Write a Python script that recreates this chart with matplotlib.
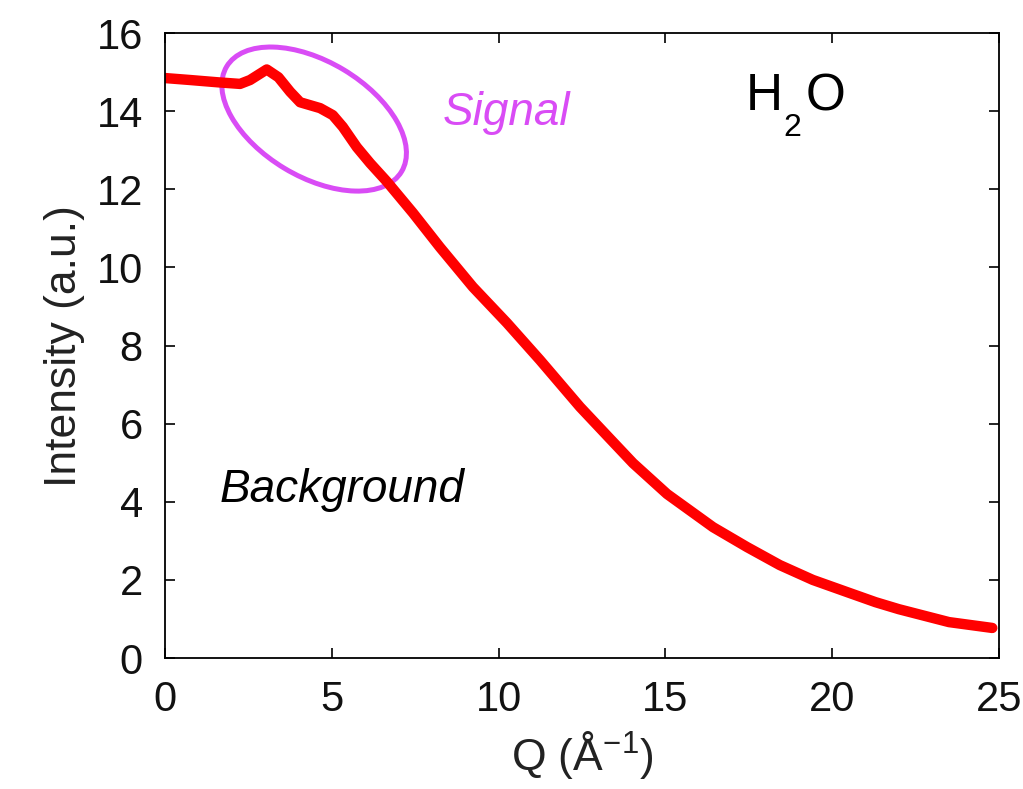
import numpy as np
import matplotlib.pyplot as plt
import matplotlib.transforms as mtransforms
from matplotlib.patches import Ellipse

plt.rcParams['font.family'] = ['Liberation Sans', 'DejaVu Sans']
plt.rcParams['mathtext.fontset'] = 'custom'
plt.rcParams['mathtext.rm'] = 'Liberation Sans'
plt.rcParams['mathtext.it'] = 'Liberation Sans:italic'

# Q in 1/Angstrom, intensity in a.u.
q = [0, 0.75, 1.6, 2.25, 2.55, 3.05, 3.4, 3.75, 4.05, 4.65, 5.03, 5.33,
     5.75, 6.15, 6.65, 7.43, 8.24, 9.23, 10.25, 11.24, 12.44, 13.3, 14.03,
     15.05, 16.43, 17.45, 18.43, 19.42, 20.44, 21.3, 22.0, 23.5, 24.8]
intensity = [14.85, 14.8, 14.74, 14.7, 14.8, 15.07, 14.87, 14.5, 14.23, 14.08,
             13.9, 13.6, 13.08, 12.67, 12.2, 11.4, 10.52, 9.5, 8.58, 7.63, 6.43,
             5.65, 4.99, 4.2, 3.35, 2.84, 2.38, 2.0, 1.69, 1.43, 1.25,
             0.92, 0.77]

x_ticks = [0, 5, 10, 15, 20, 25]
y_ticks = [0, 2, 4, 6, 8, 10, 12, 14, 16]

purple = '#d94cf5'

fig = plt.figure(figsize=(10.23, 7.89), dpi=100)
ax = fig.add_axes([0.1613, 0.166, 0.8152, 0.792])

ax.plot(q, intensity, color='#ff0000', linewidth=7.5,
        solid_capstyle='round', solid_joinstyle='round')

ax.set_xlim(0, 25)
ax.set_ylim(0, 16)
ax.set_xticks(x_ticks)
ax.set_yticks(y_ticks)
ax.tick_params(direction='in', length=7, width=1.2, labelsize=30, pad=16,
               top=True, right=True, labelcolor='#111111')
for s in ax.spines.values():
    s.set_linewidth(1.3)

ax.set_xlabel('Q (Å$^{\\mathregular{-1}}$)', fontsize=32, labelpad=6, color='#222222')
ax.set_ylabel('Intensity (a.u.)', fontsize=32, labelpad=8, color='#222222')

# ellipse around the signal region, sized in pixels so the tilt is kept
tr = mtransforms.IdentityTransform() + mtransforms.ScaledTranslation(4.47, 13.8, ax.transData)
ax.add_patch(Ellipse((0, 0), 204, 115, angle=-31, fill=False, edgecolor=purple,
                     linewidth=3.6, transform=tr, clip_on=False))

ax.text(8.33, 13.65, 'Signal', color=purple, fontsize=33, style='italic', va='baseline')
ax.text(1.65, 4.0, 'Background', color='black', fontsize=33, style='italic', va='baseline')

# H2O with a low subscript
ax.text(17.4, 14.03, 'H', color='black', fontsize=37, va='baseline')
ax.annotate('2', xy=(17.4, 14.03), xytext=(27, -19), textcoords='offset points',
            fontsize=23, va='baseline', ha='left')
ax.annotate('O', xy=(17.4, 14.03), xytext=(43, 0), textcoords='offset points',
            fontsize=37, va='baseline', ha='left')

plt.savefig('out.png', dpi=100)
